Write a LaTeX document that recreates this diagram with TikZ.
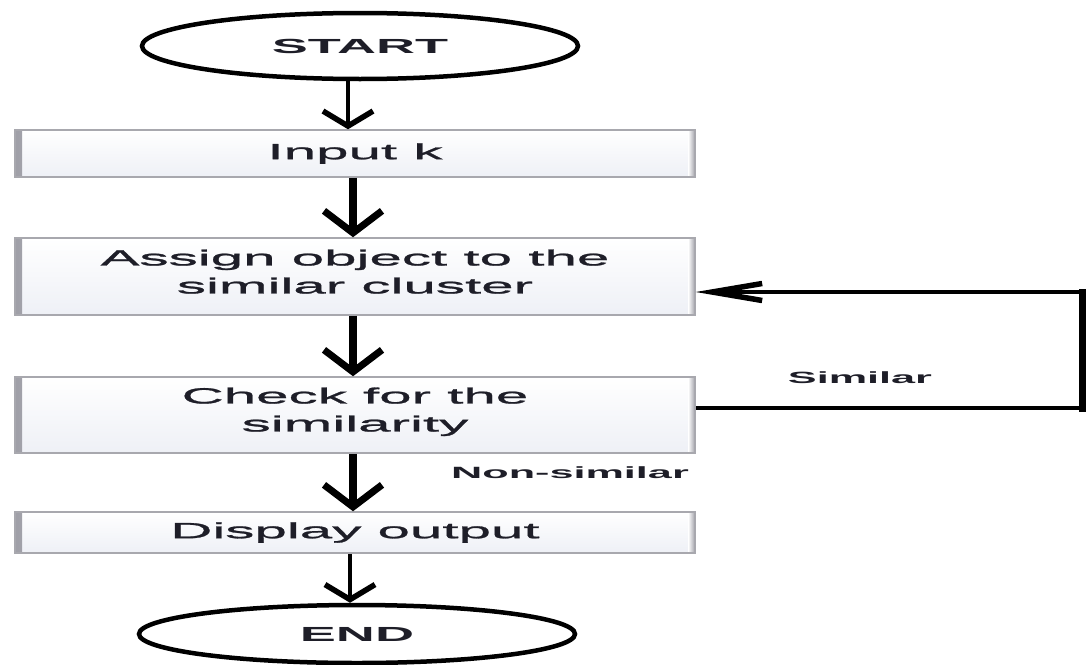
\documentclass[tikz,border=0pt]{standalone}
\usepackage{fontspec}
\setmainfont[FakeStretch=2.65]{Liberation Sans}
\newfontfamily\boxfont[FakeStretch=2.65,FakeBold=1.2]{Liberation Sans}
\usetikzlibrary{arrows.meta,shapes.geometric,calc}
\definecolor{txt}{HTML}{1E1E28}
\definecolor{boxtop}{HTML}{FFFFFF}
\definecolor{boxbot}{HTML}{EEF0F6}
\definecolor{edge}{HTML}{A8A8AE}
\definecolor{band}{HTML}{A0A0A8}
\begin{document}
\begin{tikzpicture}[x=1pt,y=-1pt,
  terminal/.style={ellipse, draw=black, line width=4.5pt, minimum width=436pt,
    inner sep=0pt, font=\fontsize{20.4}{24}\selectfont\bfseries, text=txt},
  procbox/.style={rectangle, draw=edge, line width=1.5pt, top color=boxtop,
    bottom color=boxbot, minimum width=680pt, align=center, inner sep=0pt,
    font=\boxfont\fontsize{22}{28}\selectfont, text=txt,
    path picture={
      \shade[left color=band, right color=boxtop]
        (path picture bounding box.north west) rectangle
        ([xshift=7pt]path picture bounding box.south west);
      \shade[right color=band, left color=boxtop]
        (path picture bounding box.north east) rectangle
        ([xshift=-7pt]path picture bounding box.south east);}},
  lbl/.style={font=\fontsize{16.3}{20}\selectfont\bfseries, text=txt, inner sep=0pt},
  thinarr/.style={line width=3.5pt, -{Straight Barb[length=15pt,width=50pt,line width=5.5pt]}},
  thickarr/.style={line width=8pt, -{Straight Barb[length=22pt,width=58pt,line width=7pt]}},
  backarr/.style={line width=3.5pt, -{Straight Barb[length=50pt,width=17pt,line width=5.5pt]}}
]
\useasboundingbox (0,0) rectangle (1087,664);

\node[terminal, minimum height=66pt] (start) at (360,46) {START};
\node[procbox, minimum height=47pt] (input) at (355,153.5) {Input k};
\node[procbox, minimum height=77pt, text depth=10pt] (assign) at (355,276.5) {Assign object to the\\similar cluster};
\node[procbox, minimum height=76pt, text depth=11pt] (check) at (355,415) {Check for the\\similarity};
\node[procbox, minimum height=41pt] (display) at (355,532.5) {Display output};
\node[terminal, minimum height=58pt] (end) at (357,634) {END};

\node[lbl] (sim) at (860,378) {Similar};
\node[lbl] (nonsim) at (570,473) {Non-similar};

\coordinate (a1) at (348,0);
\coordinate (a2) at (353,0);
\coordinate (a5) at (350,0);
\coordinate (fbB) at (1082,408);
\coordinate (fbT) at (1082,292);

\draw[thinarr] (a1 |- start.south) -- (a1 |- input.north);
\draw[thickarr] (a2 |- input.south) -- (a2 |- assign.north);
\draw[thickarr] (a2 |- assign.south) -- (a2 |- check.north);
\draw[thickarr] (a2 |- check.south) -- (a2 |- display.north);
\draw[thinarr] (a5 |- display.south) -- (a5 |- end.north);

\draw[line width=3.5pt] (check.east |- fbB) -- (fbB);
\draw[line width=7pt, line cap=rect] (fbB) -- (fbT);
\draw[backarr] (fbT) -- (assign.east |- fbT);
\end{tikzpicture}
\end{document}
